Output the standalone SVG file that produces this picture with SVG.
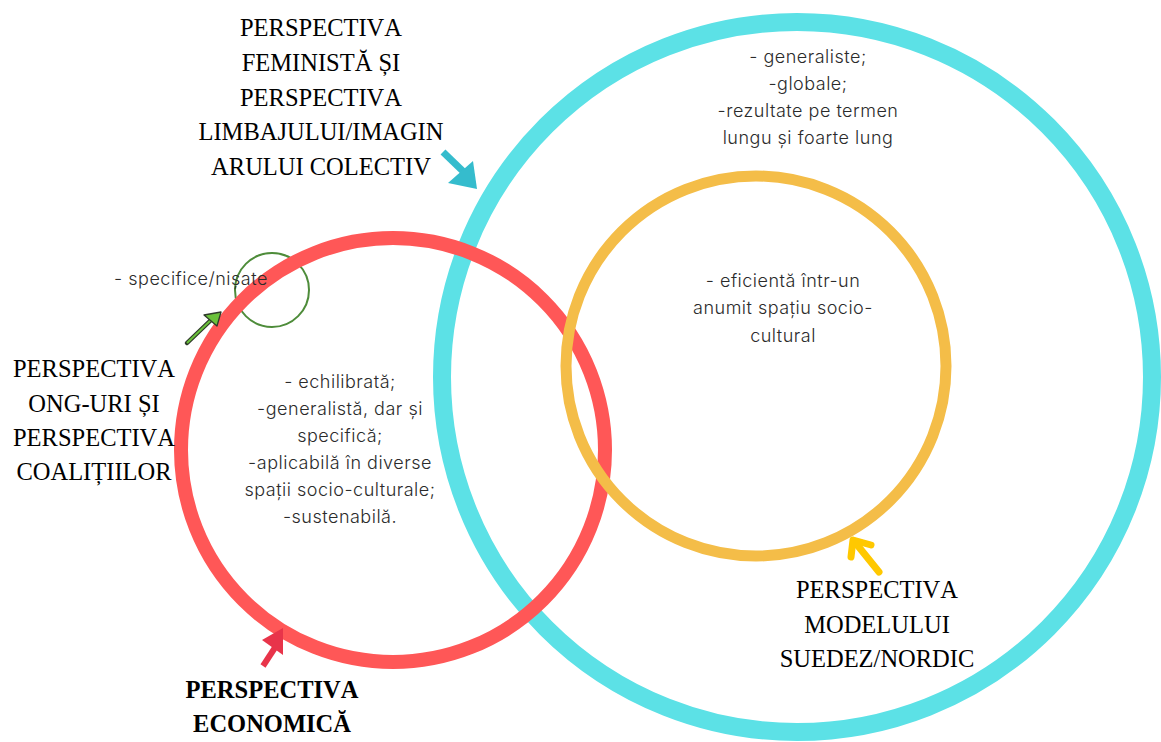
<svg xmlns="http://www.w3.org/2000/svg" width="1161" height="742" viewBox="0 0 1161 742">
<style>
.ring{fill:none}
.title{font-family:"Liberation Serif","Times New Roman",serif;font-size:24.5px;fill:#000;text-anchor:middle;font-kerning:none}
.bold{font-weight:bold}
.note{font-family:Inter,"Noto Sans",sans-serif;font-weight:300;font-size:18px;letter-spacing:0.5px;fill:#2b2b2b;text-anchor:middle}
</style>
<rect width="1161" height="742" fill="#fff"/>
<g id="cyan-circle"><circle class="ring" cx="797" cy="377" r="355" stroke="#5CE1E6" stroke-width="18"/></g>
<g id="green-circle"><circle class="ring" cx="272" cy="290" r="37" stroke="#4E8C3A" stroke-width="2"/></g>
<g id="red-circle"><circle class="ring" cx="393" cy="450" r="212" stroke="#FF5757" stroke-width="14"/></g>
<g id="yellow-circle"><circle class="ring" cx="756" cy="366" r="190" stroke="#F4BD48" stroke-width="11"/></g>

<g id="connectors">
  <g id="arrow-cyan" fill="#35BCCD">
    <line x1="443" y1="152" x2="470" y2="178" stroke="#35BCCD" stroke-width="7"/>
    <polygon points="448,183 473,161 477,189"/>
  </g>
  <g id="arrow-green">
    <path d="M187,343 L211,320" stroke="#2F3A2A" stroke-width="4.5" stroke-linecap="round"/>
    <path d="M187,343 L211,320" stroke="#6AC13A" stroke-width="2"/>
    <polygon points="204,315 221,312 217,326" fill="#6AC13A" stroke="#2F3A2A" stroke-width="1.3" stroke-linejoin="round"/>
  </g>
  <g id="arrow-red" fill="#E8344A">
    <line x1="263" y1="666" x2="278" y2="643" stroke="#E8344A" stroke-width="6"/>
    <polygon points="262,640 283,628 283,655"/>
  </g>
  <g id="arrow-yellow" fill="none" stroke="#FFC800" stroke-width="7" stroke-linecap="round" stroke-linejoin="round">
    <path d="M879,572 L854,541"/>
    <path d="M851,557 L853,540 L871,545"/>
  </g>
</g>

<g id="label-feminist">
  <text class="title" x="321" y="36">PERSPECTIVA</text>
  <text class="title" x="321" y="71">FEMINISTĂ ȘI</text>
  <text class="title" x="321" y="106">PERSPECTIVA</text>
  <text class="title" x="321" y="140">LIMBAJULUI/IMAGIN</text>
  <text class="title" x="321" y="175">ARULUI COLECTIV</text>
</g>
<g id="label-ong">
  <text class="title" x="94" y="377">PERSPECTIVA</text>
  <text class="title" x="94" y="412">ONG-URI ȘI</text>
  <text class="title" x="94" y="446">PERSPECTIVA</text>
  <text class="title" x="94" y="480">COALIȚIILOR</text>
</g>
<g id="label-economic">
  <text class="title bold" x="272" y="698">PERSPECTIVA</text>
  <text class="title bold" x="272" y="732">ECONOMICĂ</text>
</g>
<g id="label-nordic">
  <text class="title" x="877" y="598">PERSPECTIVA</text>
  <text class="title" x="877" y="633">MODELULUI</text>
  <text class="title" x="877" y="667">SUEDEZ/NORDIC</text>
</g>

<g id="note-cyan">
  <text class="note" x="808" y="63">- generaliste;</text>
  <text class="note" x="808" y="90">-globale;</text>
  <text class="note" x="808" y="117">-rezultate pe termen</text>
  <text class="note" x="808" y="144">lungu și foarte lung</text>
</g>
<g id="note-yellow">
  <text class="note" x="783" y="287">- eficientă într-un</text>
  <text class="note" x="783" y="314">anumit spațiu socio-</text>
  <text class="note" x="783" y="342">cultural</text>
</g>
<g id="note-red">
  <text class="note" x="340" y="388">- echilibrată;</text>
  <text class="note" x="340" y="415">-generalistă, dar și</text>
  <text class="note" x="340" y="442">specifică;</text>
  <text class="note" x="340" y="469">-aplicabilă în diverse</text>
  <text class="note" x="340" y="496">spații socio-culturale;</text>
  <text class="note" x="340" y="523">-sustenabilă.</text>
</g>
<g id="note-green">
  <text class="note" x="191" y="285">- specifice/nișate</text>
</g>
</svg>
